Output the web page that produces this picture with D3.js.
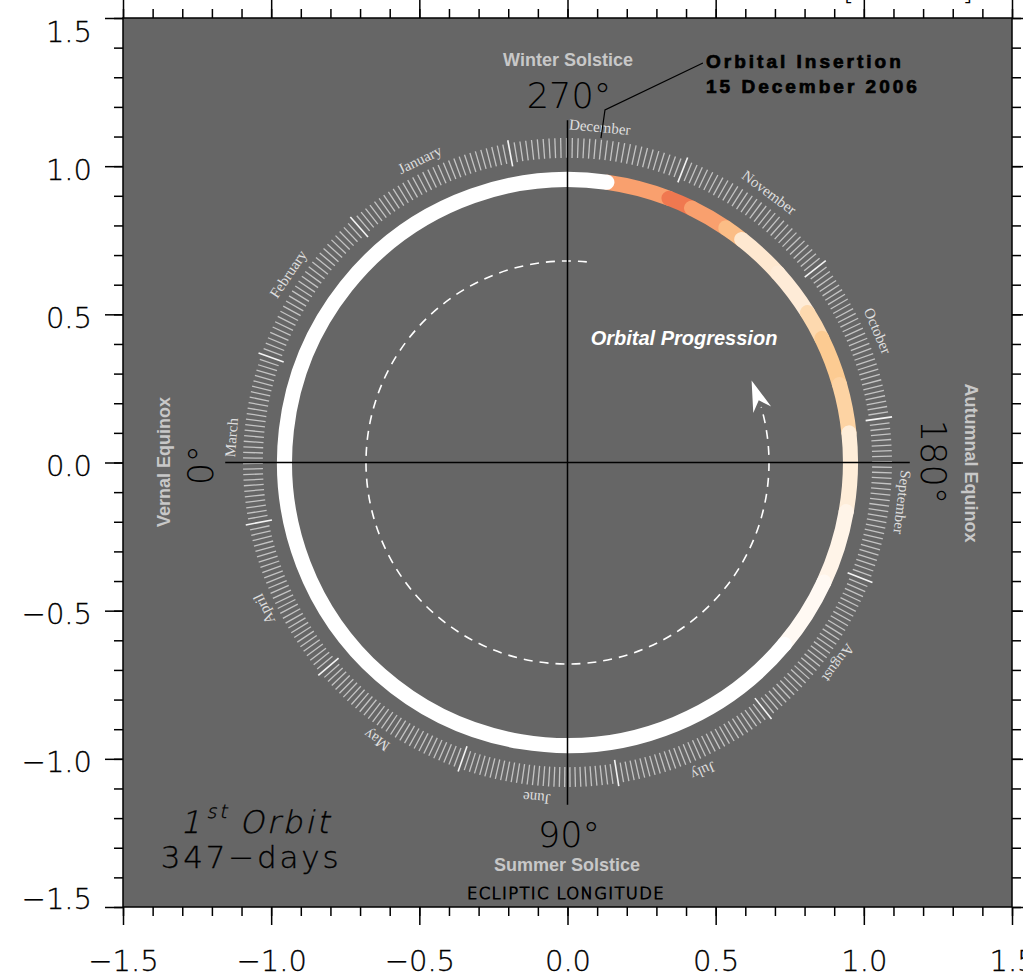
<!DOCTYPE html>
<html>
<head>
<meta charset="utf-8">
<script src="https://cdn.jsdelivr.net/npm/d3@7"></script>
<style>
  body { margin: 0; background: #fff; }
  svg { display: block; }
</style>
</head>
<body>
<svg id="chart" width="1023" height="977"></svg>
<script>
// axis values
const majorTicks = [-1.5, -1.0, -0.5, 0.0, 0.5, 1.0, 1.5];
const minorTicks = d3.range(-15, 16).map(d => d / 10);

// calendar ring (solar longitude of the 1st of each month, degrees)
const monthNames = ["January", "February", "March", "April", "May", "June",
  "July", "August", "September", "October", "November", "December"];
const monthDays = [31, 28, 31, 30, 31, 30, 31, 31, 30, 31, 30, 31];
const monthStartLon = [280.5, 311.5, 340.5, 11, 40.5, 70.5, 99, 128.5, 158.5, 188, 218, 248.5];

// orbit colour segments (ecliptic longitude, degrees) and their relative value
const segStart = [262, 249, 244, 236, 232, 222, 212, 206, 196, 186, 170, 155];
const segEnd   = [249, 244, 236, 232, 222, 212, 206, 196, 186, 170, 155, 140];
const segValue = [0.75, 1.0, 0.75, 0.58, 0.2, 0.17, 0.36, 0.5, 0.42, 0.16, 0.1, 0.05];
const whiteStart = 262, whiteEnd = 500;   // rest of the orbit (wraps through 360)

// orbital progression arrow (dashed) and insertion annotation
const dashStart = 264.5, dashEnd = 556, arrowTipLon = 204, arrowBaseLon = 196;
const insertLine = [[0.457, 1.348], [0.1265, 1.19], [0.113, 1.095]];

// radii in plot units
const rOrbit = 0.955, orbitWidth = 0.051;
const rTickIn = 1.028, rTickOut = 1.095, rMonIn = 1.016, rMonOut = 1.106;
const rMonthLabel = 1.137, rDash = 0.68, crossLen = 1.155;

const svg = d3.select("#chart");
const x = d3.scaleLinear().domain([-1.5, 1.5]).range([123, 1012]);
const y = d3.scaleLinear().domain([-1.5, 1.5]).range([907, 18]);
const cx = x(0), cy = y(0);
const px = r => x(r) - x(0);
const rad = d => d * Math.PI / 180;
const theta = lon => rad(180 - lon);           // screen angle for a longitude
const pt = (r, lon) => [x(-r * Math.cos(rad(lon))), y(-r * Math.sin(rad(lon)))];

const color = d3.scaleLinear()
  .domain([0, 0.2, 0.5, 0.75, 1])
  .range(["#ffffff", "#fee8d0", "#fccb92", "#f9a06e", "#f07850"]);

function arcPath(r, lon0, lon1) {
  const p = d3.path();
  p.arc(cx, cy, px(r), theta(lon0), theta(lon1), lon1 > lon0);
  return p.toString();
}

// background
svg.append("rect")
  .attr("x", x(-1.5)).attr("y", y(1.5))
  .attr("width", x(1.5) - x(-1.5)).attr("height", y(-1.5) - y(1.5))
  .attr("fill", "#666666");

const plot = svg.append("g");

// daily ticks
const dayTicks = [];
monthStartLon.forEach((s, m) => {
  const span = ((monthStartLon[(m + 1) % 12] - s) + 360) % 360;
  for (let k = 0; k < monthDays[m]; k++) {
    dayTicks.push({ lon: s + span * k / monthDays[m], first: k === 0 });
  }
});
plot.append("g").selectAll("line")
  .data(dayTicks)
  .join("line")
  .attr("x1", d => pt(d.first ? rMonIn : rTickIn, d.lon)[0])
  .attr("y1", d => pt(d.first ? rMonIn : rTickIn, d.lon)[1])
  .attr("x2", d => pt(d.first ? rMonOut : rTickOut, d.lon)[0])
  .attr("y2", d => pt(d.first ? rMonOut : rTickOut, d.lon)[1])
  .attr("stroke", d => d.first ? "#f4f4f4" : "#c4c4c4")
  .attr("stroke-width", d => d.first ? 1.6 : 1.3);

// month labels
plot.append("g").selectAll("text")
  .data(monthNames)
  .join("text")
  .attr("transform", (d, i) => {
    const span = ((monthStartLon[(i + 1) % 12] - monthStartLon[i]) + 360) % 360;
    const lon = monthStartLon[i] + span / 2;
    const p = pt(rMonthLabel, lon);
    return `translate(${p[0]},${p[1]}) rotate(${270 - lon})`;
  })
  .attr("text-anchor", "middle")
  .attr("dominant-baseline", "central")
  .attr("font-family", "'Liberation Serif', serif")
  .attr("font-size", 15)
  .attr("fill", "#dedede")
  .text(d => d);

// orbit ring: coloured part first, then the white remainder
const segs = segStart.map((s, i) => ({ s: s, e: segEnd[i], v: segValue[i] }));
plot.append("g").selectAll("path")
  .data(segs)
  .join("path")
  .attr("d", d => arcPath(rOrbit, d.s, d.e))
  .attr("fill", "none")
  .attr("stroke", d => color(d.v))
  .attr("stroke-width", px(orbitWidth))
  .attr("stroke-linecap", "round");

plot.append("path")
  .attr("d", arcPath(rOrbit, whiteStart, whiteEnd))
  .attr("fill", "none")
  .attr("stroke", "#ffffff")
  .attr("stroke-width", px(orbitWidth))
  .attr("stroke-linecap", "round");

// dashed progression arc + arrow head
plot.append("path")
  .attr("d", arcPath(rDash, dashStart, dashEnd))
  .attr("fill", "none")
  .attr("stroke", "#ffffff")
  .attr("stroke-width", 1.6)
  .attr("stroke-dasharray", "9,7");

const tip = pt(rDash, arrowTipLon), base = pt(rDash, arrowBaseLon);
const len = Math.hypot(tip[0] - base[0], tip[1] - base[1]);
const dir = [(tip[0] - base[0]) / len, (tip[1] - base[1]) / len];
const nrm = [-dir[1], dir[0]];
const ahead = (back, side) => [tip[0] - back * dir[0] + side * nrm[0], tip[1] - back * dir[1] + side * nrm[1]];
plot.append("path")
  .attr("d", d3.line()([tip, ahead(31, 9.5), ahead(21, 0), ahead(31, -9.5)]) + "Z")
  .attr("fill", "#ffffff");

// cross hair
plot.append("line")
  .attr("x1", x(-crossLen)).attr("x2", x(crossLen))
  .attr("y1", y(0)).attr("y2", y(0))
  .attr("stroke", "#000").attr("stroke-width", 1.5);
plot.append("line")
  .attr("x1", x(0)).attr("x2", x(0))
  .attr("y1", y(-crossLen)).attr("y2", y(crossLen))
  .attr("stroke", "#000").attr("stroke-width", 1.5);

// insertion leader
plot.append("path")
  .attr("d", d3.line().x(d => x(d[0])).y(d => y(d[1]))(insertLine))
  .attr("fill", "none")
  .attr("stroke", "#000")
  .attr("stroke-width", 1.2);

// labels
const hersh = "'DejaVu Sans', sans-serif";
const bold = "'Liberation Sans', Arial, sans-serif";
function label(t, tx, ty, opts) {
  const el = plot.append("text")
    .attr("transform", `translate(${tx},${ty})` + (opts.rot ? ` rotate(${opts.rot})` : ""))
    .attr("text-anchor", opts.anchor || "middle")
    .attr("font-family", opts.family || hersh)
    .attr("font-size", opts.size)
    .attr("font-weight", opts.weight || 200)
    .attr("fill", opts.fill || "#000")
    .text(t);
  if (opts.italic) el.attr("font-style", "italic");
  if (opts.spacing) el.attr("letter-spacing", opts.spacing);
  return el;
}
const grey = "#c8c8c8";
label("Winter Solstice", 568, 66, { family: bold, size: 18, weight: 700, fill: grey });
label("270°", 569, 108, { size: 35 });
label("90°", 569, 847, { size: 35 });
label("Summer Solstice", 567, 871, { family: bold, size: 18, weight: 700, fill: grey });
label("ECLIPTIC  LONGITUDE", 566, 899, { size: 16.5, weight: 200, spacing: 1.3 })
  .attr("stroke", "#000").attr("stroke-width", 0.9);
label("0°", 213, 465, { size: 35, rot: -90 });
label("Vernal Equinox", 170, 462, { family: bold, size: 18, weight: 700, fill: grey, rot: -90 });
label("180°", 921, 462, { size: 35, rot: 90 });
label("Autumnal Equinox", 965, 463, { family: bold, size: 18, weight: 700, fill: grey, rot: 90 });
label("Orbital Insertion", 706, 68, { family: bold, size: 19, weight: 700, anchor: "start", spacing: 3 })
  .attr("stroke", "#000").attr("stroke-width", 0.7);
label("15 December 2006", 706, 93, { family: bold, size: 19, weight: 700, anchor: "start", spacing: 3 })
  .attr("stroke", "#000").attr("stroke-width", 0.7);
label("Orbital Progression", 684, 345, { family: bold, size: 20, weight: 700, fill: "#fff", italic: true });

// thin slanted "1st Orbit" (skewed light face instead of the heavy oblique)
const orbitLbl = plot.append("text")
  .attr("transform", "translate(256,833) skewX(-13)")
  .attr("text-anchor", "middle")
  .attr("font-family", hersh)
  .attr("font-weight", 200)
  .attr("letter-spacing", 3)
  .attr("stroke", "#000").attr("stroke-width", 0.35)
  .attr("font-size", 31);
orbitLbl.append("tspan").text("1");
orbitLbl.append("tspan").attr("font-size", 19).attr("dy", -15).text("st");
orbitLbl.append("tspan").attr("dy", 15).text(" Orbit");
label("347−days", 251, 868, { size: 31, spacing: 2.8 }).attr("stroke", "#000").attr("stroke-width", 0.3);

// axes
const fmt = d3.format(".1f");
function addAxis(axisFn, transform, ticks, size, pad, withLabels) {
  const g = svg.append("g")
    .attr("transform", transform)
    .call(axisFn.tickValues(ticks).tickSize(size).tickSizeOuter(0).tickPadding(pad)
      .tickFormat(withLabels ? fmt : ""));
  g.select(".domain").remove();
  g.selectAll(".tick line").attr("stroke", "#000").attr("stroke-width", 1.5);
  if (!withLabels) g.selectAll(".tick text").remove();
  g.selectAll("text")
    .attr("font-family", hersh)
    .attr("font-weight", 200)
    .attr("font-size", 29)
    .attr("fill", "#000")
    .attr("stroke", "#000")
    .attr("stroke-width", 0.3);
  return g;
}
addAxis(d3.axisLeft(y), `translate(${x(-1.5)},0)`, minorTicks, 9, 0, false);
const yAx = addAxis(d3.axisLeft(y), `translate(${x(-1.5)},0)`, majorTicks, 18, 13, true);
yAx.selectAll("text").attr("dy", "0.45em");
yAx.selectAll(".tick").filter(d => d === 1.5).select("text").attr("dy", "0.8em");
yAx.selectAll(".tick").filter(d => d === -1.5).select("text").attr("dy", "0.05em");
addAxis(d3.axisBottom(x), `translate(0,${y(-1.5)})`, minorTicks, 9, 0, false);
addAxis(d3.axisBottom(x), `translate(0,${y(-1.5)})`, majorTicks, 18, 25, true);
addAxis(d3.axisTop(x), `translate(0,${y(1.5)})`, minorTicks, 9, 0, false);
addAxis(d3.axisTop(x), `translate(0,${y(1.5)})`, majorTicks, 18, 0, false);
addAxis(d3.axisRight(y), `translate(${x(1.5)},0)`, minorTicks, 9, 0, false);
addAxis(d3.axisRight(y), `translate(${x(1.5)},0)`, majorTicks, 18, 0, false);

svg.append("rect")
  .attr("x", x(-1.5)).attr("y", y(1.5))
  .attr("width", x(1.5) - x(-1.5)).attr("height", y(-1.5) - y(1.5))
  .attr("fill", "none").attr("stroke", "#000").attr("stroke-width", 1.5);

// cut-off title brackets at the very top
svg.append("text").attr("x", 843).attr("y", 0).attr("font-family", hersh)
  .attr("font-weight", 200).attr("font-size", 29).text("[");
svg.append("text").attr("x", 962).attr("y", 0).attr("font-family", hersh)
  .attr("font-weight", 200).attr("font-size", 29).text("]");
</script>
</body>
</html>
